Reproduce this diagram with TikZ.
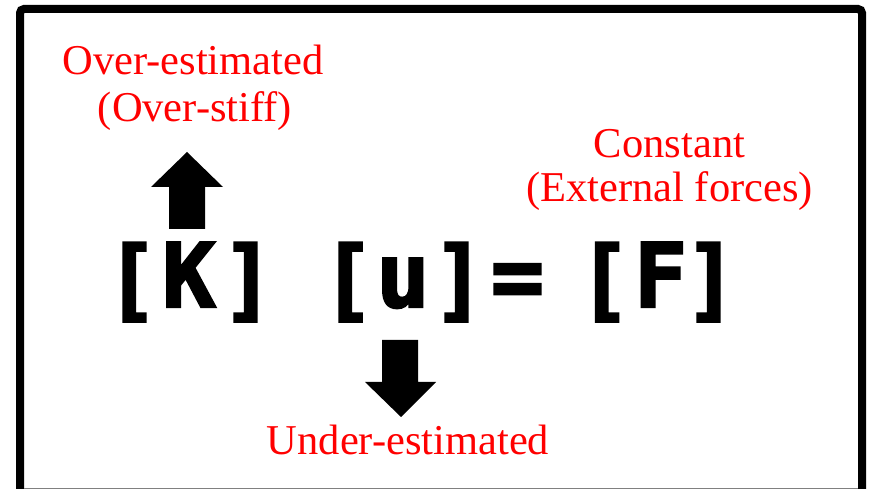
\documentclass[tikz,border=0pt]{standalone}
\usepackage{fontspec}
\setmainfont{Liberation Serif}
\newfontfamily\eqfont[FakeBold=2.5]{DejaVu Sans Mono Bold}
\begin{document}
\begin{tikzpicture}[x=1pt,y=1pt,
  redlabel/.style={text=red,font=\fontsize{42.5}{48}\selectfont,anchor=base,inner sep=0pt},
  eqtext/.style={font=\eqfont\fontsize{89}{95}\selectfont,anchor=base,inner sep=0pt},
  blockarrow/.style={fill=black,draw=none}]
\useasboundingbox (0,0) rectangle (869,489);
\fill[white] (0,0) rectangle (869,489);
% frame
\draw[line width=8pt,rounded corners=4pt] (20,-20) -- (20,480) -- (862,480) -- (862,-20);
\draw[gray,line width=1pt] (24,0.5) -- (858,0.5);
% labels
\node[redlabel] (over1) at (193,414) {Over-estimated};
\node[redlabel] (over2) at (195,367) {(Over-stiff)};
\node[redlabel] (const1) at (669.5,331) {Constant};
\node[redlabel] (const2) at (669.5,287) {(External forces)};
\node[redlabel] (under) at (408,34) {Under-estimated};
% equation
\node[eqtext] (lk) at (132,179) {[};
\node[eqtext] (k) at (189,182) {K};
\node[eqtext] (rk) at (248,179) {]};
\node[eqtext] (lu) at (348,179) {[};
\node[eqtext] (u) at (403,182) {u};
\node[eqtext] (ru) at (459,179) {]};
\node[eqtext] (eqs) at (517.5,182) {=};
\node[eqtext] (lf) at (604.5,179) {[};
\node[eqtext] (f) at (660.5,182) {F};
\node[eqtext] (rf) at (711,179) {]};
% arrows
\fill[blockarrow] (187,337) -- (223,302) -- (205,302) -- (205,260) -- (169,260) -- (169,302) -- (151,302) -- cycle;
\fill[blockarrow] (401,72) -- (436,107) -- (418,107) -- (418,149) -- (382,149) -- (382,107) -- (365,107) -- cycle;
\end{tikzpicture}
\end{document}
